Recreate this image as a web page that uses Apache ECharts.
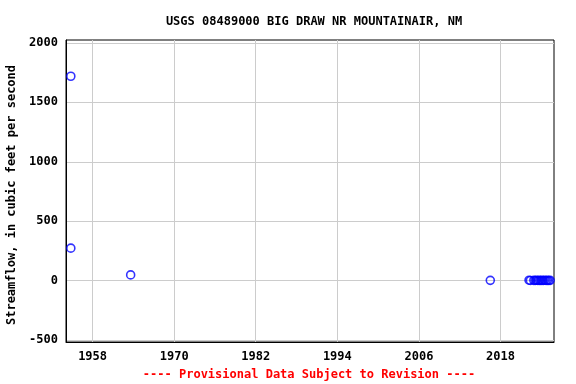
<!DOCTYPE html>
<html>
<head>
<meta charset="utf-8">
<script src="https://cdn.jsdelivr.net/npm/echarts@6/dist/echarts.min.js"></script>
<style>html,body{margin:0;padding:0;background:#fff}#c{width:576px;height:384px}</style>
</head>
<body>
<div id="c"></div>
<script>
var years = [1954.8, 1954.8, 1963.6, 2016.5,
  2022.2, 2022.4, 2022.9, 2023.1, 2023.3, 2023.5, 2023.7, 2023.9, 2024.1, 2024.3, 2024.5, 2024.7, 2024.9, 2025.1, 2025.3];
var flows = [1720, 273, 48, 2,
  3, 1, 2, 1, 3, 1, 2, 1, 2, 1, 3, 1, 2, 1, 2];
var xTicks = [1958, 1970, 1982, 1994, 2006, 2018];
var yTicks = [-500, 0, 500, 1000, 1500, 2000];

var font = '"DejaVu Sans Mono", monospace';
var pts = years.map(function (y, i) { return [y, flows[i]]; });
var chart = echarts.init(document.getElementById('c'), null, {renderer: 'canvas'});
chart.setOption({
  animation: false,
  backgroundColor: '#ffffff',
  title: {
    text: 'USGS 08489000 BIG DRAW NR MOUNTAINAIR, NM',
    left: 309, top: 11, textAlign: 'center',
    textStyle: {fontFamily: font, fontSize: 12, fontWeight: 'bold', color: '#000'}
  },
  graphic: [{
    type: 'text', x: 309, y: 369,
    style: {text: '---- Provisional Data Subject to Revision ----', fill: '#ff0000',
      font: 'bold 12px ' + font, textAlign: 'center'}
  }],
  grid: {left: 66, right: 22, top: 40, bottom: 42, containLabel: false, outerBoundsMode: 'none',
    show: true, borderColor: '#000', borderWidth: 1},
  xAxis: {
    type: 'value', min: 1954.09, max: 2025.87,
    axisLine: {show: true, onZero: false, lineStyle: {color: '#000'}},
    axisTick: {show: false, customValues: xTicks},
    axisLabel: {customValues: xTicks, formatter: function (v) { return String(v); },
      fontFamily: font, fontWeight: 'bold', fontSize: 12, color: '#000', margin: 9},
    splitLine: {show: true, lineStyle: {color: '#cccccc'}}
  },
  yAxis: {
    type: 'value', min: -517, max: 2025,
    name: 'Streamflow, in cubic feet per second', nameLocation: 'middle', nameGap: 48,
    nameTextStyle: {fontFamily: font, fontWeight: 'bold', fontSize: 12, color: '#000', padding: [0, 8, 0, 0]},
    axisLine: {show: true, onZero: false, lineStyle: {color: '#000'}},
    axisTick: {show: false, customValues: yTicks},
    axisLabel: {customValues: yTicks, formatter: function (v) { return String(v); },
      fontFamily: font, fontWeight: 'bold', fontSize: 12, color: '#000', margin: 8},
    splitLine: {show: true, lineStyle: {color: '#cccccc'}}
  },
  series: [{
    type: 'scatter', data: pts, symbol: 'circle', symbolSize: 8,
    itemStyle: {color: 'rgba(0,0,0,0)', borderColor: '#0000ff', borderWidth: 1.6},
    clip: false
  }]
});
</script>
</body>
</html>
